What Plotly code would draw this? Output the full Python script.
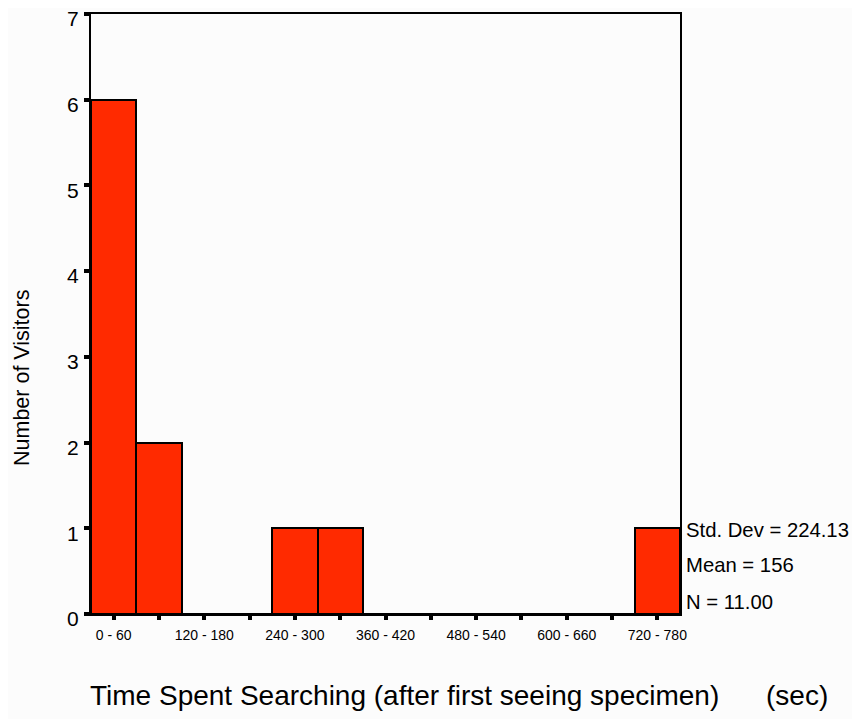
import plotly.graph_objects as go

bin_starts = [0, 60, 120, 180, 240, 300, 360, 420, 480, 540, 600, 660, 720]
bin_width = 60
counts = [6, 2, 0, 0, 1, 1, 0, 0, 0, 0, 0, 0, 1]
bin_labels = ["0 - 60", "", "120 - 180", "", "240 - 300", "", "360 - 420", "",
              "480 - 540", "", "600 - 660", "", "720 - 780"]
stats = ["Std. Dev = 224.13", "Mean = 156", "N = 11.00"]
stat_levels = [0.98, 0.57, 0.14]
y_ticks = [0, 1, 2, 3, 4, 5, 6, 7]

centers = [s + bin_width / 2 for s in bin_starts]

OFF = 8  # page body offset
W, H = 860, 719
L, T = 91 - OFF, 14 - OFF
R = W - (680 - OFF)
B = H - (614 - OFF)
pw, ph = W - L - R, H - T - B


def px_x(x):
    return (x - OFF - L) / pw


def px_y(y):
    return 1 - (y - OFF - T) / ph


fig = go.Figure()
fig.add_trace(go.Bar(
    x=centers, y=counts, width=[bin_width] * len(centers),
    marker=dict(color="#ff2a00", line=dict(color="black", width=2)),
    showlegend=False,
))

fig.update_layout(
    width=W, height=H,
    margin=dict(l=L, r=R, t=T, b=B, autoexpand=False),
    paper_bgcolor="#fcfcfc", plot_bgcolor="#fcfcfc",
    font=dict(family="Liberation Sans, Arial, sans-serif", color="black"),
    bargap=0,
    xaxis=dict(
        range=[0, 780], tickmode="array", tickvals=centers, ticktext=bin_labels,
        ticks="outside", ticklen=4, tickwidth=4, tickcolor="black",
        tickfont=dict(size=14), showgrid=False, zeroline=False, automargin=False,
        ticklabelstandoff=3, ticklabeloverflow="allow",
        showline=True, linecolor="black", linewidth=2, mirror=True,
    ),
    yaxis=dict(
        range=[0, 7], tickmode="array", tickvals=y_ticks,
        ticks="outside", ticklen=5, tickwidth=4, tickcolor="black",
        tickfont=dict(size=21), showgrid=False, zeroline=False, automargin=False,
        ticklabelstandoff=1, ticklabelshift=5, ticklabeloverflow="allow",
        showline=True, linecolor="black", linewidth=2, mirror=True,
    ),
)

for txt, lvl in zip(stats, stat_levels):
    fig.add_annotation(x=1, xref="paper", y=lvl, yref="y", text=txt,
                       showarrow=False, xanchor="left", xshift=4,
                       font=dict(size=20.3))

fig.add_annotation(x=px_x(404), xref="paper", y=px_y(695), yref="paper",
                   text="Time Spent Searching (after first seeing specimen)",
                   showarrow=False, xanchor="center", yanchor="middle", font=dict(size=28))
fig.add_annotation(x=px_x(797), xref="paper", y=px_y(695), yref="paper",
                   text="(sec)",
                   showarrow=False, xanchor="center", yanchor="middle", font=dict(size=28))

fig.add_annotation(x=px_x(22), xref="paper", y=px_y(378), yref="paper",
                   text="Number of Visitors", textangle=-90, showarrow=False,
                   xanchor="center", yanchor="middle", font=dict(size=21.5))

fig.write_html("out.html")
